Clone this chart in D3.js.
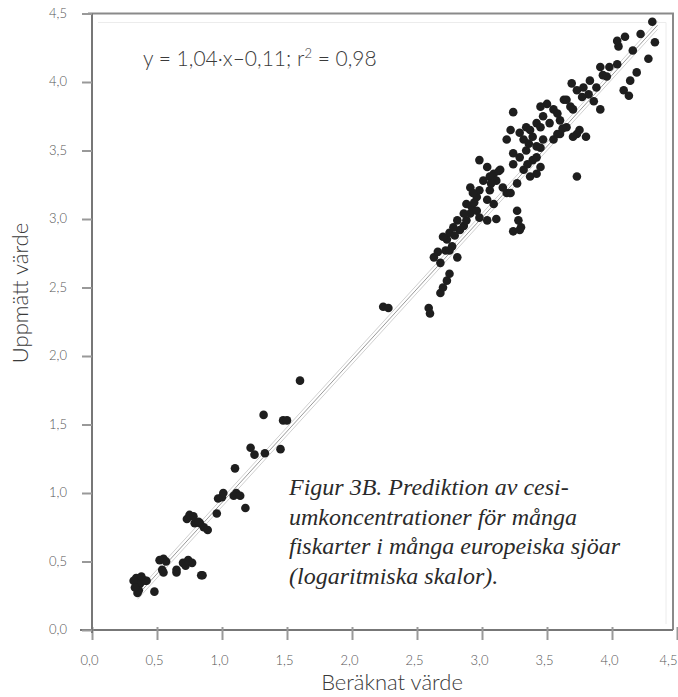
<!DOCTYPE html>
<html>
<head>
<meta charset="utf-8">
<script src="https://cdn.jsdelivr.net/npm/d3@7"></script>
<style>
  body { margin: 0; background: #fff; }
  svg text { fill: #3a3a3a; }
  .tick-label { font-family: Lato, "Open Sans", sans-serif; font-weight: 300; font-size: 13px; fill: #555; }
  .axis-title { font-family: Lato, "Open Sans", sans-serif; font-weight: 300; font-size: 22px; }
  .eq { font-family: Lato, "Open Sans", sans-serif; font-weight: 300; font-size: 21px; }
  .caption { font-family: "Liberation Serif", "DejaVu Serif", serif; font-style: italic; font-size: 24px; fill: #2a2a2a; }
</style>
</head>
<body>
<div id="chart"></div>
<script>
var w = 678, h = 697;

// ticks
var xTicks = [0, 0.5, 1, 1.5, 2, 2.5, 3, 3.5, 4, 4.5];
var yTicks = [0, 0.5, 1, 1.5, 2, 2.5, 3, 3.5, 4, 4.5];

// fit y = 1.04x - 0.11
var fitSlope = 1.04, fitIntercept = -0.11;
var fitRange = [0.35, 4.35];

// beräknat (x) and uppmätt (y) values
var xVals = [0.33,0.345,0.35,0.38,0.42,0.48,0.55,0.65,0.72,0.77,0.85,
  0.34,0.37,0.36,0.41,0.55,0.57,0.54,0.65,0.70,0.74,0.84,
  0.32,0.33,0.38,0.52,0.75,0.79,0.83,1.11,1.00,
  0.73,0.78,0.82,0.86,0.89,0.96,0.97,1.01,1.09,1.14,1.18,
  1.60,1.32,1.47,1.50,1.22,1.25,1.33,1.45,1.10,
  2.24,2.28,2.59,2.60,2.68,2.70,2.73,2.75,2.63,2.72,2.77,2.73,2.81,2.75,2.83,2.86,2.88,2.91,2.92,2.96,2.98,3.04,3.11,
  2.91,2.96,2.98,3.01,3.04,3.09,2.98,3.04,3.09,3.11,3.16,3.19,3.14,3.24,3.29,3.32,3.37,3.27,3.27,3.28,3.24,3.29,3.30,3.73,
  3.34,3.39,3.42,3.22,
  3.24,3.35,3.42,3.45,3.06,2.93,3.06,2.88,2.86,2.81,2.78,2.70,2.75,2.68,
  4.31,4.33,4.10,4.05,4.16,4.28,3.91,3.98,4.04,4.19,4.14,4.09,4.13,3.93,3.88,3.82,3.69,3.73,3.77,3.86,3.91,3.68,3.63,
  3.50,3.55,3.47,3.42,3.52,3.60,3.65,3.75,3.80,3.24,3.22,3.29,3.34,3.39,3.47,3.19,3.55,
  4.22,4.04,3.96,3.83,3.78,3.65,3.58,3.45,3.37,3.32,3.42,3.60,3.70,3.73,3.45,
  3.58,3.62,3.70,3.45,3.36,3.07,3.13,2.94,2.66,2.79];
var yVals = [0.36,0.31,0.27,0.38,0.36,0.28,0.42,0.42,0.47,0.49,0.40,
  0.38,0.34,0.29,0.36,0.52,0.50,0.44,0.44,0.49,0.51,0.40,
  0.36,0.31,0.39,0.51,0.84,0.78,0.78,1.00,0.97,
  0.81,0.83,0.79,0.75,0.73,0.85,0.96,1.00,0.98,0.98,0.89,
  1.82,1.57,1.53,1.53,1.33,1.28,1.29,1.32,1.18,
  2.36,2.35,2.35,2.31,2.46,2.50,2.55,2.60,2.72,2.77,2.80,2.85,2.72,2.90,2.92,2.95,2.99,3.04,3.09,3.06,3.01,2.99,3.00,
  3.23,3.16,3.21,3.28,3.14,3.11,3.43,3.38,3.33,3.28,3.23,3.19,3.36,3.40,3.45,3.36,3.31,3.26,3.06,2.99,2.91,2.92,2.94,3.31,
  3.50,3.43,3.33,3.19,
  3.48,3.40,3.45,3.38,3.31,3.19,3.21,3.11,3.04,2.99,2.94,2.87,2.77,2.68,
  4.44,4.29,4.33,4.26,4.23,4.17,4.11,4.11,4.13,4.07,4.01,3.94,3.90,4.05,3.96,3.91,3.99,3.94,3.89,3.86,3.80,3.82,3.87,
  3.84,3.80,3.75,3.70,3.70,3.72,3.67,3.65,3.60,3.78,3.65,3.63,3.67,3.60,3.58,3.58,3.58,
  4.35,4.30,4.04,4.01,3.96,3.87,3.77,3.67,3.65,3.58,3.53,3.62,3.80,3.62,3.82,
  3.62,3.66,3.60,3.52,3.55,3.26,3.35,3.12,2.76,2.88];

var svg = d3.select("#chart").append("svg")
  .attr("width", w).attr("height", h);

var x = d3.scaleLinear().domain([0, 4.5]).range([92, 677]);
var y = d3.scaleLinear().domain([0, 4.5]).range([630, 13.5]);

// frame (top and right)
svg.append("path")
  .attr("d", "M" + (x(0) - 4) + "," + y(4.5) + "H673V" + y(0))
  .attr("fill", "none").attr("stroke", "#8a8a8a").attr("stroke-width", 2);
svg.append("path")
  .attr("d", "M" + (x(0) + 6) + "," + (y(4.5) + 9) + "H666V" + (y(0) - 6))
  .attr("fill", "none").attr("stroke", "#ececec").attr("stroke-width", 1);

// axes
var fmt = function(d) { return d3.format(".1f")(d).replace(".", ","); };
var xAxis = d3.axisBottom(x).tickValues(xTicks).tickSize(10).tickFormat(fmt);
var yAxis = d3.axisLeft(y).tickValues(yTicks).tickSize(10).tickFormat(fmt);

var gx = svg.append("g").attr("transform", "translate(0," + y(0) + ")").call(xAxis);
gx.select(".domain").attr("d", "M" + (x(0) - 12) + ",0H673").attr("stroke", "#777").attr("stroke-width", 2);
gx.selectAll(".tick line").attr("stroke", "#999").attr("stroke-width", 2).attr("y1", -3);
gx.selectAll(".tick text").attr("class", "tick-label").attr("y", 26).attr("dx", -3);
// last label sits at the right edge
gx.selectAll(".tick text").filter(function(d) { return d == 4.5; })
  .attr("text-anchor", "end").attr("dx", 0).attr("x", 677 - x(4.5));

var gy = svg.append("g").attr("transform", "translate(" + x(0) + ",0)").call(yAxis);
gy.select(".domain").attr("d", "M0," + y(4.5) + "V" + (y(0) + 3)).attr("stroke", "#777").attr("stroke-width", 2);
gy.selectAll(".tick line").attr("stroke", "#999").attr("stroke-width", 2);
gy.selectAll(".tick text").attr("class", "tick-label").attr("x", -25).attr("dy", "0.3em");

// regression line with faint band
var fx = fitRange;
[-0.03, 0, 0.03].forEach(function(off, i) {
  svg.append("line")
    .attr("x1", x(fx[0])).attr("y1", y(fitSlope * fx[0] + fitIntercept + off))
    .attr("x2", x(fx[1])).attr("y2", y(fitSlope * fx[1] + fitIntercept + off))
    .attr("stroke", i == 1 ? "#999" : "#d0d0d0").attr("stroke-width", 1);
});

// points
svg.append("g").selectAll("circle")
  .data(d3.range(xVals.length)).enter()
  .append("circle")
  .attr("cx", function(i) { return x(xVals[i]); })
  .attr("cy", function(i) { return y(yVals[i]); })
  .attr("r", 4.3)
  .attr("fill", "#1e1e1e");

// equation
var eq = svg.append("text").attr("class", "eq").attr("x", 143).attr("y", 66);
eq.append("tspan").text("y = 1,04·x–0,11; r");
eq.append("tspan").attr("font-size", "13px").attr("dy", -8).text("2");
eq.append("tspan").attr("dy", 8).text(" = 0,98");

// axis titles
svg.append("text").attr("class", "axis-title")
  .attr("text-anchor", "middle")
  .attr("transform", "translate(28,293) rotate(-90)")
  .text("Uppmätt värde");
svg.append("text").attr("class", "axis-title")
  .attr("text-anchor", "middle")
  .attr("x", 392).attr("y", 690)
  .text("Beräknat värde");

// caption
var caption = ["Figur 3B. Prediktion av cesi-",
  "umkoncentrationer för många",
  "fiskarter i många europeiska sjöar",
  "(logaritmiska skalor)."];
svg.append("g").selectAll("text")
  .data(caption).enter()
  .append("text").attr("class", "caption")
  .attr("x", 289)
  .attr("y", function(d, i) { return 495 + i * 29.5; })
  .text(function(d) { return d; });
</script>
</body>
</html>
